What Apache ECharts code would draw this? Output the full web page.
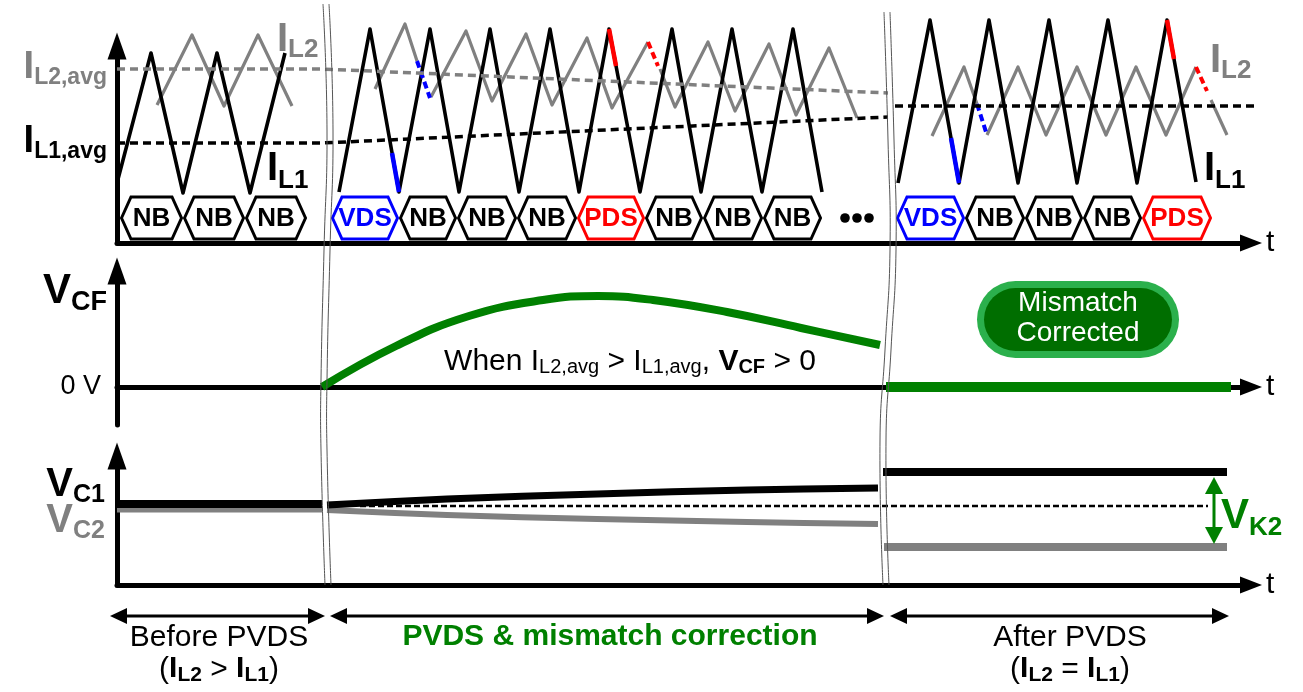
<!DOCTYPE html>
<html><head><meta charset="utf-8">
<script src="https://cdn.jsdelivr.net/npm/echarts@6/dist/echarts.min.js"></script>
<style>html,body{margin:0;padding:0;background:#fff}#c{width:1303px;height:692px}</style>
</head><body><div id="c"></div>
<script>
// ================= DATA (time t, arbitrary units) =================
// Panel 1 : inductor currents (arbitrary units)
const il1Before = [[0,60],[34,190],[66,50],[100,190],[133,50],[168,190]];
const il2Before = [[40,138],[75,208],[107,137],[141,208],[175,137]];
const il1Pvds = [[222,51],[253,214],[282,51],[313,214],[342,51],[373,214],[402,51],[433,214],[462,51],[492,214],[523,51],[555,214],[584,51],[615,214],[645,51],[676,214],[705,51]];
const il2Pvds = [[258,154],[288,219],[300,182],null,[314,146],[349,212],[375,142],[409,209],[435,138],[470,205],[495,135],[531,201],null,[543,174],[558,136],[591,201],[618,132],[652,199],[679,128],[712,195],[740,125]];
const il1After = [[781,60],[813,223],[842,60],[872,223],[901,60],[932,223],[960,60],[991,223],[1020,60],[1050,223],[1079,61]];
const il2After = [[815,107],[847,176],[860,139],null,[870,108],[901,176],[929,108],[960,176],[989,108],[1019,176],[1049,108],[1079,176],null,[1094,143],[1110,108]];
const il1VdsSeg = [[[275,90],[282,51]],[[834,105],[842,60]]];
const il1PdsSeg = [[[492,214],[499,177]],[[1050,223],[1057,184]]];
const il2VdsSeg = [[[300,182],[313,145]],[[860,139],[870,108]]];
const il2PdsSeg = [[[531,201],[541,177]],[[1079,176],[1090,152]]];
const il2Avg = [[0,174],[205,174],[771,150]];
const il1Avg = [[0,100],[205,100],[771,126]];
const ilAvgAfter = [[778,137],[1146,137]];
// switching phases
const phaseStart = [3,66,128,214,282,340,400,460,528,586,646,779,848,908,966,1025];
const phaseEnd   = [66,128,190,282,340,400,460,528,586,646,705,848,908,966,1025,1095];
const phaseLabel = ['NB','NB','NB','VDS','NB','NB','NB','PDS','NB','NB','NB','VDS','NB','NB','NB','PDS'];
const ellipsisT = [728,740,752];
// Panel 2 : flying capacitor voltage
const vcfPvds = [[205,0],[279,41],[352,71],[426,87],[481,91],[536,87],[610,75],[684,59],[763,42]];
const vcfAfter = [[769,0],[1114,0]];
// Panel 3 : capacitor voltages
const vc1Before = [[0,81],[205,81]];
const vc2Before = [[0,75],[205,75]];
const vc1Pvds = [[210,80],[330,86],[480,91],[630,95],[761,97]];
const vc2Pvds = [[210,75],[330,70],[480,66],[630,63],[761,61]];
const vcMid = [[243,79],[1091,79]];
const vc1After = [[766,113],[1110,113]];
const vc2After = [[767,38],[1110,38]];
const vk2 = [[1097,41,108]];
// bottom time spans
const spanStart = [-7,213,773];
const spanEnd = [208,767,1112];
// tick labels
const p1TickValues = [100,174];
const p1TickNames = ['IL1,avg','IL2,avg'];
const p2TickValues = [0,94];
const p2TickNames = ['0 V','VCF'];
const p3TickValues = [63,99];
const p3TickNames = ['VC2','VC1'];

// ================= STYLE =================
const FONT = '"Liberation Sans", Arial, Helvetica, sans-serif';
const BLACK='#000000', GREY='#808080', BLUE='#0000ff', RED='#ff0000', GREEN='#008000';
const HEX_LEVEL = 25, SPAN_LEVEL = 0.5;

function splitRuns(arr){const runs=[];let cur=[];arr.forEach(p=>{if(p===null){if(cur.length)runs.push(cur);cur=[];}else cur.push(p);});if(cur.length)runs.push(cur);return runs;}
function ln(data, gi, color, width, type, z, smooth){
  return {type:'line', xAxisIndex:gi, yAxisIndex:gi, data:data, symbol:'none', showSymbol:false, clip:false, silent:true,
    smooth: smooth||false, lineStyle:{color:color, width:width, type:type||'solid', cap:'butt', join:'round'}, z:z||2};
}
const series = [];
// panel 1
[il2Before].concat(splitRuns(il2Pvds), splitRuns(il2After)).forEach(r=>series.push(ln(r,0,GREY,3.2,'solid',2)));
[il1Before, il1Pvds, il1After].forEach(r=>series.push(ln(r,0,BLACK,3.6,'solid',3)));
il1VdsSeg.forEach(r=>series.push(ln(r,0,BLUE,4.5,'solid',4)));
il1PdsSeg.forEach(r=>series.push(ln(r,0,RED,4.5,'solid',4)));
il2VdsSeg.forEach(r=>series.push(ln(r,0,BLUE,4,[7,4],4)));
il2PdsSeg.forEach(r=>series.push(ln(r,0,RED,4,[7,4],4)));
series.push(ln(il2Avg,0,GREY,3.5,[8,5],5));
series.push(ln(il1Avg,0,BLACK,3.5,[8,5],5));
series.push(ln(ilAvgAfter,0,BLACK,3.5,[8,5],5));
series.push({type:'custom', xAxisIndex:0, yAxisIndex:0, silent:true, clip:false, z:6,
  data: phaseStart.map((s,i)=>[s, phaseEnd[i]]), encode:{x:[0,1]},
  renderItem:(params, api)=>{
    const a = api.coord([api.value(0), HEX_LEVEL]);
    const b = api.coord([api.value(1), HEX_LEVEL]);
    const lab = phaseLabel[params.dataIndex];
    const col = lab==='VDS'?BLUE:(lab==='PDS'?RED:BLACK);
    const h=21, k=11, y=a[1];
    return {type:'group', children:[
      {type:'polygon', shape:{points:[[a[0]+1.5,y],[a[0]+k,y-h],[b[0]-k,y-h],[b[0]-1.5,y],[b[0]-k,y+h],[a[0]+k,y+h]]},
       style:{fill:'none', stroke:col, lineWidth:3, lineJoin:'miter'}},
      {type:'text', style:{text:lab, x:(a[0]+b[0])/2, y:y+1, align:'center', verticalAlign:'middle', fill:col, font:'bold 26px '+FONT}}
    ]};
  }});
series.push({type:'custom', xAxisIndex:0, yAxisIndex:0, silent:true, clip:false, z:6,
  data: ellipsisT.map(t=>[t]), encode:{x:0},
  renderItem:(params, api)=>{const p=api.coord([api.value(0), HEX_LEVEL]);
    return {type:'circle', shape:{cx:p[0], cy:p[1], r:4.8}, style:{fill:BLACK}};}});
// panel 2
series.push(ln(vcfPvds,1,GREEN,8,'solid',3,0.45));
series.push(ln(vcfAfter,1,GREEN,10,'solid',3));
// panel 3
series.push(ln(vc2Before,2,GREY,5,'solid',2));
series.push(ln(vc1Before,2,BLACK,8,'solid',3));
series.push(ln(vc2Pvds,2,GREY,6,'solid',2,0.3));
series.push(ln(vc1Pvds,2,BLACK,7,'solid',3,0.3));
series.push(ln(vcMid,2,BLACK,2.5,[6,3],4));
series.push(ln(vc1After,2,BLACK,8,'solid',3));
series.push(ln(vc2After,2,GREY,8,'solid',3));
// panel 3 axis labels (V_C1 / V_C2), placed at their y values
series.push({type:'custom', xAxisIndex:2, yAxisIndex:2, silent:true, clip:false, z:6,
  data: p3TickValues.map(v=>[0, v]), encode:{x:0, y:1},
  renderItem:(params, api)=>{
    const p = api.coord([0, api.value(1)]);
    const n = p3TickNames[params.dataIndex];
    const c = params.dataIndex===0 ? GREY : BLACK;
    return {type:'text', style:{x:p[0]-12, y:p[1], align:'right', verticalAlign:'middle',
      text:'{b|'+n.charAt(0)+'}{s|'+n.slice(1)+'}',
      rich:{b:{fontSize:40, fontWeight:'bold', fontFamily:FONT, fill:c, padding:[0,0,3,0]},
            s:{fontSize:25, fontWeight:'bold', fontFamily:FONT, fill:c, verticalAlign:'bottom'}}}};
  }});
function tri(tip, dir, len, half){
  const bx = tip[0]-dir[0]*len, by = tip[1]-dir[1]*len;
  return [[tip[0],tip[1]],[bx-dir[1]*half, by+dir[0]*half],[bx+dir[1]*half, by-dir[0]*half]];
}
series.push({type:'custom', xAxisIndex:2, yAxisIndex:2, silent:true, clip:false, z:6,
  data: vk2, encode:{x:0, y:[1,2]},
  renderItem:(params, api)=>{
    const a = api.coord([api.value(0), api.value(1)]);
    const b = api.coord([api.value(0), api.value(2)]);
    return {type:'group', children:[
      {type:'line', shape:{x1:a[0], y1:a[1]-10, x2:b[0], y2:b[1]+10}, style:{stroke:GREEN, lineWidth:3}},
      {type:'polygon', shape:{points:tri(a,[0,1],17,9)}, style:{fill:GREEN}},
      {type:'polygon', shape:{points:tri(b,[0,-1],17,9)}, style:{fill:GREEN}}
    ]};
  }});
// spans
series.push({type:'custom', xAxisIndex:3, yAxisIndex:3, silent:true, clip:false, z:6,
  data: spanStart.map((s,i)=>[s, spanEnd[i]]), encode:{x:[0,1]},
  renderItem:(params, api)=>{
    const a = api.coord([api.value(0), SPAN_LEVEL]);
    const b = api.coord([api.value(1), SPAN_LEVEL]);
    return {type:'group', children:[
      {type:'line', shape:{x1:a[0]+8, y1:a[1], x2:b[0]-8, y2:b[1]}, style:{stroke:BLACK, lineWidth:3}},
      {type:'polygon', shape:{points:tri(a,[-1,0],17,8)}, style:{fill:BLACK}},
      {type:'polygon', shape:{points:tri(b,[1,0],17,8)}, style:{fill:BLACK}}
    ]};
  }});

// ================= AXES =================
function xAx(i){
  return {type:'value', gridIndex:i, min:0, max:1134, show: i<3,
    axisLine:{show:true, onZero:true, symbol:['none','triangle'], symbolSize:[17,22], lineStyle:{color:BLACK, width:5}},
    axisTick:{show:false}, axisLabel:{show:false}, splitLine:{show:false},
    name:'t', nameLocation:'end', nameGap:15, nameTextStyle:{fontFamily:FONT, fontSize:30, color:BLACK, padding:[0,0,4,0]}};
}
const yLine = {show:true, symbol:['none','triangle'], symbolSize:[19,27], lineStyle:{color:BLACK, width:5}};
const RB = (size,color)=>({fontSize:size, fontWeight:'bold', fontFamily:FONT, color:color});
const RS = (size,color)=>({fontSize:size, fontWeight:'bold', fontFamily:FONT, color:color, verticalAlign:'bottom'});
function subLabel(name, bigKey, subKey){ return '{'+bigKey+'|'+name.charAt(0)+'}{'+subKey+'|'+name.slice(1)+'}'; }

const option = {
  animation:false, backgroundColor:'#ffffff',
  grid:[
    {left:117, top:46, width:1134, height:197},
    {left:117, top:271, width:1134, height:154},
    {left:117, top:456, width:1134, height:129},
    {left:117, top:601, width:1134, height:30}
  ],
  xAxis:[xAx(0),xAx(1),xAx(2),xAx(3)],
  yAxis:[
    {type:'value', gridIndex:0, min:0, max:197, axisLine:yLine, axisTick:{show:false}, splitLine:{show:false},
     axisLabel:{customValues:p1TickValues, margin:10, hideOverlap:false,
       formatter:v=>{const i=p1TickValues.indexOf(v); const n=p1TickNames[i]; return i===0?subLabel(n,'kb','ks'):subLabel(n,'gb','gs');},
       rich:{kb:Object.assign(RB(38,BLACK),{padding:[0,0,3,0]}), ks:RS(23,BLACK), gb:Object.assign(RB(38,GREY),{padding:[0,0,3,0]}), gs:RS(23,GREY)}}},
    {type:'value', gridIndex:1, min:-38, max:116, axisLine:yLine, axisTick:{show:false}, splitLine:{show:false},
     axisLabel:{customValues:p2TickValues, margin:10, hideOverlap:false,
       formatter:v=>{const i=p2TickValues.indexOf(v); const n=p2TickNames[i]; return i===0?'{z|'+n+'}':subLabel(n,'vb','vs');},
       rich:{z:{fontSize:27, fontFamily:FONT, color:BLACK, padding:[0,6,0,0]}, vb:Object.assign(RB(42,BLACK),{padding:[0,0,4,0]}), vs:RS(27,BLACK)}}},
    {type:'value', gridIndex:2, min:0, max:129, axisLine:yLine, axisTick:{show:false}, splitLine:{show:false},
     axisLabel:{show:false}},
    {type:'value', gridIndex:3, min:0, max:1, show:false}
  ],
  series: series,
  graphic: []
};

// ================= ANNOTATIONS =================
const G = option.graphic;
function gRich(x, y, text, rich, align){ G.push({type:'text', z:50, silent:true, style:{x:x, y:y, text:text, align:align||'left', verticalAlign:'middle', rich:rich}}); }
const gb = (s,c,p)=>({fontSize:s, fontWeight:'bold', fontFamily:FONT, fill:c, padding:p||0});
const gs = (s,c)=>({fontSize:s, fontWeight:'bold', fontFamily:FONT, fill:c, verticalAlign:'bottom'});
const gr = (s,c)=>({fontSize:s, fontFamily:FONT, fill:c});
const grs = (s,c)=>({fontSize:s, fontFamily:FONT, fill:c, verticalAlign:'bottom'});
gRich(277, 41, '{b|I}{s|L2}', {b:gb(40,GREY,[0,0,3,0]), s:gs(26,GREY)});
gRich(267, 171, '{b|I}{s|L1}', {b:gb(40,BLACK,[0,0,5,0]), s:gs(26,BLACK)});
gRich(1210, 62, '{b|I}{s|L2}', {b:gb(40,GREY,[0,0,3,0]), s:gs(26,GREY)});
gRich(1204, 171, '{b|I}{s|L1}', {b:gb(40,BLACK,[0,0,5,0]), s:gs(26,BLACK)});
gRich(630, 362, '{r|When I}{rs|L2,avg}{r| > I}{rs|L1,avg}{r|, }{b|V}{bs|CF}{r| > 0}',
  {r:gr(30,BLACK), rs:grs(20,BLACK), b:gb(30,BLACK), bs:gs(20,BLACK)}, 'center');
gRich(1221, 518, '{b|V}{s|K2}', {b:gb(42,GREEN,[0,0,3,0]), s:gs(26,GREEN)});
// pill
G.push({type:'rect', z:40, silent:true, shape:{x:977, y:281, width:202, height:77, r:38.5}, style:{fill:'#2bb04c'}});
G.push({type:'rect', z:41, silent:true, shape:{x:984, y:288, width:188, height:63, r:31.5}, style:{fill:'#006e00'}});
G.push({type:'text', z:42, silent:true, style:{x:1078, y:318, text:'Mismatch\nCorrected', align:'center', verticalAlign:'middle', fill:'#ffffff', font:'28px '+FONT, lineHeight:30}});
// span texts
G.push({type:'text', z:42, silent:true, style:{x:219, y:638, text:'Before PVDS', align:'center', verticalAlign:'middle', fill:BLACK, font:'30px '+FONT}});
gRich(219, 670, '{p|(}{b|I}{s|L2}{p| > }{b|I}{s|L1}{p|)}', {p:gr(30,BLACK), b:gb(30,BLACK,[0,0,2,0]), s:gs(21,BLACK)}, 'center');
G.push({type:'text', z:42, silent:true, style:{x:610, y:637, text:'PVDS & mismatch correction', align:'center', verticalAlign:'middle', fill:GREEN, font:'bold 30px '+FONT}});
G.push({type:'text', z:42, silent:true, style:{x:1070, y:638, text:'After PVDS', align:'center', verticalAlign:'middle', fill:BLACK, font:'30px '+FONT}});
gRich(1070, 670, '{p|(}{b|I}{s|L2}{p| = }{b|I}{s|L1}{p|)}', {p:gr(30,BLACK), b:gb(30,BLACK,[0,0,2,0]), s:gs(21,BLACK)}, 'center');
// break marks
function brk(pts){ G.push({type:'polyline', z:60, silent:true, shape:{points:pts, smooth:0.5}, style:{stroke:'#555555', lineWidth:1, fill:'none'}}); }
brk([[323,4],[327,130],[324,250],[321,380],[321,450],[325,585]]);
brk([[329,4],[333,130],[330,250],[327,380],[327,450],[331,585]]);
brk([[884,12],[888,140],[890,250],[885,350],[880,440],[883,585]]);
brk([[890,12],[894,140],[896,250],[891,350],[886,440],[889,585]]);

const chart = echarts.init(document.getElementById('c'), null, {renderer:'canvas'});
chart.setOption(option);
</script>
</body></html>
